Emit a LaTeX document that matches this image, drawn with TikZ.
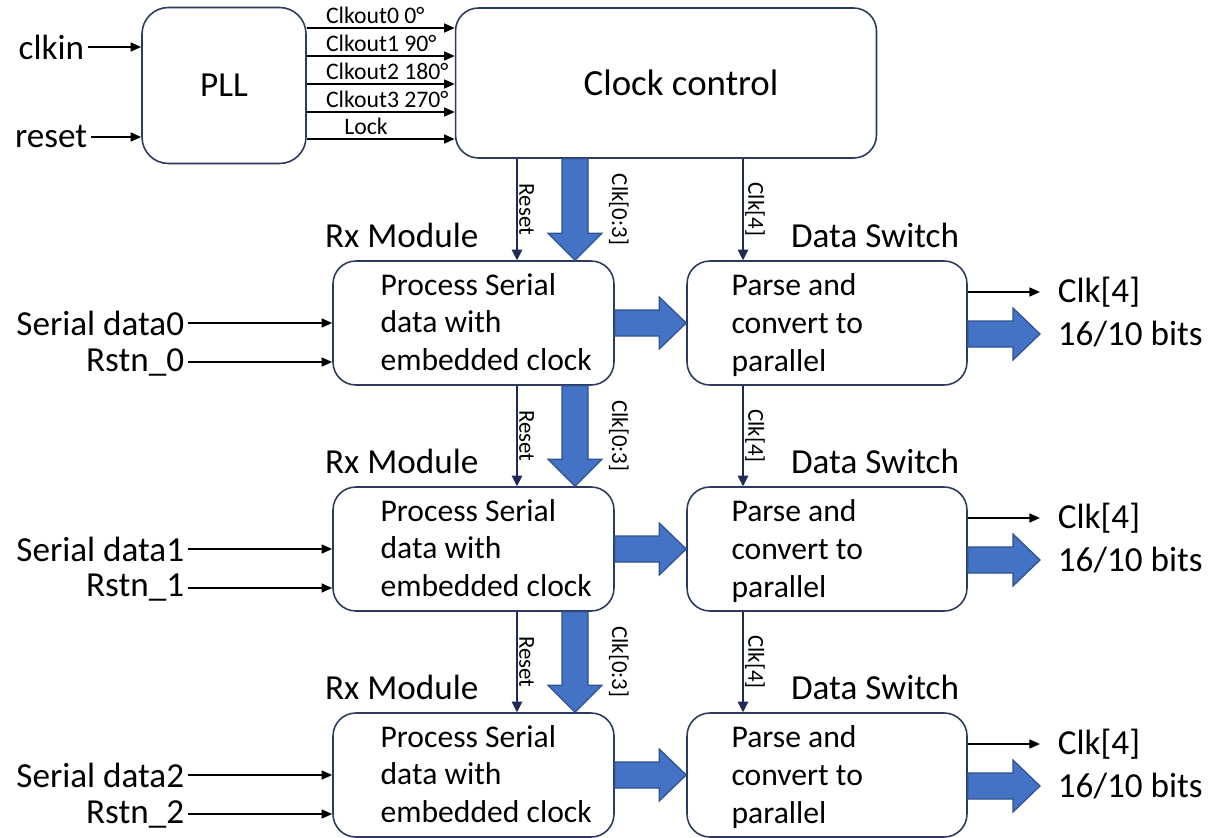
\documentclass[tikz,border=0pt]{standalone}
\usepackage{fontspec}
\setmainfont{Carlito}
\usetikzlibrary{arrows.meta,calc}
\definecolor{boxline}{HTML}{2B3A5E}
\definecolor{ctlnavy}{HTML}{1F2A55}
\definecolor{busblue}{HTML}{4472C4}
\definecolor{busedge}{HTML}{2F528F}
\tikzset{
  blockbox/.style={
    rectangle, rounded corners=13pt, draw=boxline, line width=0.9pt,
    fill=white, align=center, font=\fontsize{20}{24}\selectfont
  },
  boxtext/.style={font=\fontsize{18}{21.5}\selectfont, align=left, inner sep=0pt},
  lbl/.style={font=\fontsize{20}{24}\selectfont, inner sep=2pt},
  outlbl/.style={font=\fontsize{20}{24}\selectfont, inner xsep=10pt, inner ysep=2pt},
  clklbl/.style={font=\fontsize{13.5}{16}\selectfont, inner sep=2pt},
  vlab/.style={font=\fontsize{13}{15}\selectfont, rotate=-90, anchor=south, inner sep=1pt},
  sig/.style={-{Triangle[length=6pt,width=5pt]}, line width=1.1pt, draw=black},
  ctl/.style={-{Triangle[length=6pt,width=6pt]}, line width=0.6pt, draw=ctlnavy},
  bus/.style={fill=busblue, draw=busedge, line width=0.7pt}
}
% fat bus arrows, #1 start, #2 tip
\newcommand{\busdown}[2]{
  \draw[bus] ($#1+(-13,0)$) -- ($#2+(-13,-27)$) -- ($#2+(-27,-27)$) -- #2
    -- ($#2+(27,-27)$) -- ($#2+(13,-27)$) -- ($#1+(13,0)$) -- cycle;
}
\newcommand{\busright}[2]{
  \draw[bus] ($#1+(0,-13)$) -- ($#2+(-27,-13)$) -- ($#2+(-27,-26)$) -- #2
    -- ($#2+(-27,26)$) -- ($#2+(-27,13)$) -- ($#1+(0,13)$) -- cycle;
}
% one receiver row: #1 index, #2 centre y, #3 block above rx, #4 block above ds
\newcommand{\rxrow}[4]{
  \node[blockbox, minimum width=5.62cm, minimum height=2.48cm] (rx#1) at (473.5,#2) {};
  \node[boxtext, anchor=west] (rxt#1) at ($(rx#1.west)+(48,-1)$) {Process Serial\\data with\\embedded clock};
  \node[blockbox, minimum width=5.6cm, minimum height=2.48cm] (ds#1) at (827,#2) {};
  \node[boxtext, anchor=west] (dst#1) at ($(ds#1.west)+(45,2)$) {Parse and\\convert to\\parallel};
  \node[lbl, anchor=base west] (rxl#1) at ($(rx#1.north west)+(-11,-13)$) {Rx Module};
  \node[lbl, anchor=base west] (dsl#1) at ($(ds#1.north west)+(101,-13)$) {Data Switch};
  \node[lbl, anchor=east] (sd#1) at (188,#2) {Serial data#1};
  \node[lbl, anchor=east] (rs#1) at (188,#2+39) {Rstn\_#1};
  \draw[sig] (sd#1) -- (rx#1.west |- sd#1);
  \draw[sig] (rs#1) -- (rx#1.west |- rs#1);
  \draw[ctl] (#3.south -| rstx) -- (rx#1.north -| rstx) node[midway, vlab] (rl#1) {Reset};
  \busdown{(#3.south -| busx)}{(rx#1.north -| busx)}
  \node[vlab] (bl#1) at ($(#3.south -| busx)!0.5!(rx#1.north -| busx)+(32,0)$) {Clk[0:3]};
  \draw[ctl] (#4.south -| ckx) -- (ds#1.north -| ckx) node[midway, vlab] (cl#1) {Clk[4]};
  \busright{(rx#1.east)}{(ds#1.west)}
  \node[outlbl, anchor=west] (ck#1) at (1040,#2-31) {Clk[4]};
  \node[outlbl, anchor=west] (bt#1) at (1040,#2+11) {16/10 bits};
  \draw[sig] (ds#1.east |- ck#1) -- (ck#1.west);
  \busright{(ds#1.east |- bt#1)}{(bt#1.west)}
}

\begin{document}
\begin{tikzpicture}[x=0.02cm, y=-0.02cm]
\useasboundingbox (0,0) rectangle (1217,838);
\coordinate (rstx) at (517,0);
\coordinate (busx) at (575,0);
\coordinate (ckx) at (743,0);

\node[blockbox, minimum width=3.28cm, minimum height=3.12cm, rounded corners=15pt] (pll) at (224,85.5) {PLL};
\node[blockbox, minimum width=8.42cm, minimum height=3cm, font=\fontsize{21}{25}\selectfont] (cc) at (666,83) {\hspace*{0.6cm}Clock control};
\node[lbl, anchor=east] (clkin) at (88,47) {clkin};
\node[lbl, anchor=east] (rst) at (91,137) {reset};
\draw[sig] (clkin) -- (pll.west |- clkin);
\draw[sig] (rst) -- (pll.west |- rst);
\draw[sig] (pll.east |- 0,28) -- (cc.west |- 0,28) node[pos=0.1, clklbl, anchor=south west] (co0) {Clkout0 0°};
\draw[sig] (pll.east |- 0,56) -- (cc.west |- 0,56) node[pos=0.1, clklbl, anchor=south west] (co1) {Clkout1 90°};
\draw[sig] (pll.east |- 0,84) -- (cc.west |- 0,84) node[pos=0.1, clklbl, anchor=south west] (co2) {Clkout2 180°};
\draw[sig] (pll.east |- 0,112) -- (cc.west |- 0,112) node[pos=0.1, clklbl, anchor=south west] (co3) {Clkout3 270°};
\draw[sig] (pll.east |- 0,139) -- (cc.west |- 0,139) node[pos=0.4, clklbl, anchor=south] (lck) {Lock};

\rxrow{0}{323}{cc}{cc}
\rxrow{1}{549}{rx0}{ds0}
\rxrow{2}{775}{rx1}{ds1}
\end{tikzpicture}
\end{document}
